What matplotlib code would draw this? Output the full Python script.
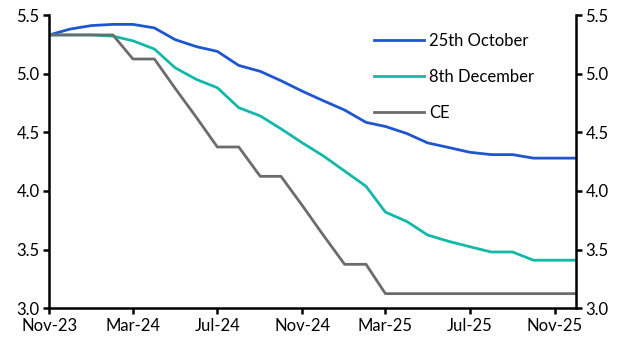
import pandas as pd
import matplotlib
matplotlib.use("Agg")
import matplotlib.pyplot as plt
import matplotlib.dates as mdates

plt.rcParams['font.family'] = ['Lato', 'DejaVu Sans']

# monthly path, Nov-23 .. Dec-25
months = pd.date_range("2023-11-01", "2025-12-01", freq="MS")

oct25 = [5.33, 5.38, 5.41, 5.42, 5.42, 5.39, 5.29, 5.23, 5.19, 5.07, 5.02, 4.94, 4.85,
         4.77, 4.69, 4.585, 4.55, 4.49, 4.41, 4.37, 4.33, 4.31, 4.31, 4.28, 4.28, 4.28]
dec8 = [5.33, 5.33, 5.33, 5.32, 5.28, 5.21, 5.05, 4.95, 4.88, 4.71, 4.64, 4.53, 4.41,
        4.30, 4.17, 4.04, 3.82, 3.74, 3.625, 3.57, 3.525, 3.48, 3.48, 3.41, 3.41, 3.41]
ce = [5.33, 5.33, 5.33, 5.33, 5.125, 5.125, 4.875, 4.625, 4.375, 4.375, 4.125, 4.125, 3.875,
      3.625, 3.375, 3.375, 3.125, 3.125, 3.125, 3.125, 3.125, 3.125, 3.125, 3.125, 3.125, 3.125]

series_names = ["25th October", "8th December", "CE"]
colors = ["#1F56CF", "#12B9A8", "#6C6C6C"]

fig = plt.figure(figsize=(6.27, 3.53), dpi=100)
ax = fig.add_axes([0.0786, 0.1266, 0.8394, 0.8309])

for vals, name, c in zip([oct25, dec8, ce], series_names, colors):
    ax.plot(months, vals, color=c, lw=2.0, label=name)

ax.set_xlim(months[0], months[-1])
ax.set_ylim(3.0, 5.5)
ax.set_yticks([3.0, 3.5, 4.0, 4.5, 5.0, 5.5])
ax.yaxis.set_major_formatter(matplotlib.ticker.FormatStrFormatter('%.1f'))
ax.xaxis.set_major_locator(mdates.MonthLocator(bymonth=[3, 7, 11]))
ax.xaxis.set_major_formatter(mdates.DateFormatter('%b-%y'))

for s in ["left", "right", "bottom"]:
    ax.spines[s].set_linewidth(1.8)
ax.spines["top"].set_visible(False)
ax.tick_params(axis="both", direction="out", length=4, width=1.8, labelsize=12, pad=3)
ax.tick_params(axis="y", right=True, labelright=True)

ax.legend(loc="upper left", bbox_to_anchor=(0.605, 0.962), frameon=False, fontsize=12,
          handlelength=3.0, handletextpad=0.3, labelspacing=1.2, borderaxespad=0)

fig.savefig("out.png", dpi=100)
